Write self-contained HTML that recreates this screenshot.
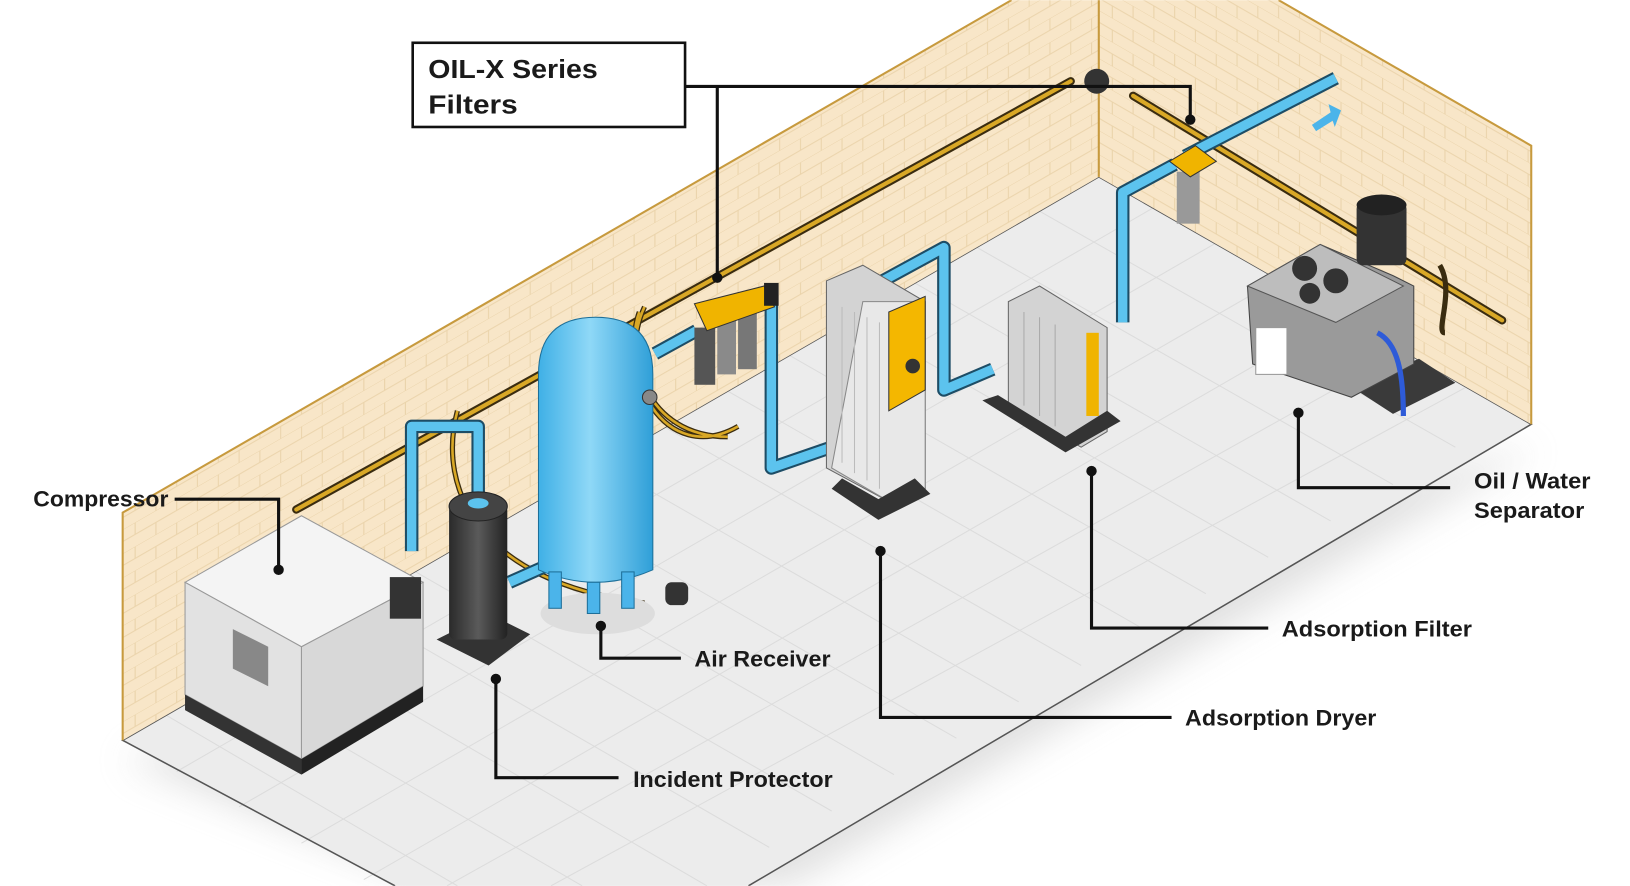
<!DOCTYPE html>
<html><head><meta charset="utf-8"><style>
html,body{margin:0;padding:0;background:#fff;width:1630px;height:886px;overflow:hidden}
svg{display:block;overflow:hidden}
text{font-family:"Liberation Sans Narrow","Liberation Sans",sans-serif;font-weight:bold;fill:#1a1a1a}
</style></head><body>
<svg width="1630" height="886" viewBox="0 0 1568 852" xmlns="http://www.w3.org/2000/svg">
<defs>
<clipPath id="frame"><rect width="1568" height="852"/></clipPath>
<pattern id="brick" width="40" height="23.1" patternUnits="userSpaceOnUse" patternTransform="skewY(-30)">
<rect width="40" height="23.1" fill="#f8e6c8"/>
<path d="M0 0H40M0 11.5H40M10 0V11.5M30 11.5V23.1" stroke="#ead3aa" stroke-width="1"/>
</pattern>
<pattern id="brick2" width="40" height="23.1" patternUnits="userSpaceOnUse" patternTransform="skewY(30)">
<rect width="40" height="23.1" fill="#f8e6c8"/>
<path d="M0 0H40M0 11.5H40M10 0V11.5M30 11.5V23.1" stroke="#ead3aa" stroke-width="1"/>
</pattern>
<linearGradient id="blue" x1="0" x2="1"><stop offset="0" stop-color="#3fb0e6"/><stop offset=".45" stop-color="#8fd8f7"/><stop offset="1" stop-color="#2f9fd8"/></linearGradient>
<linearGradient id="dark" x1="0" x2="1"><stop offset="0" stop-color="#2a2a2a"/><stop offset=".5" stop-color="#5a5a5a"/><stop offset="1" stop-color="#222"/></linearGradient>
<filter id="blur"><feGaussianBlur stdDeviation="18"/></filter>
</defs>
<g clip-path="url(#frame)">
<polygon points="118,730 420,852 760,852 1480,430" fill="#bbb" opacity=".45" filter="url(#blur)"/>
<polygon points="118,712 1057,170 1473,408 720,852 380,852" fill="#ececec"/>
<g stroke="#dcdcdc" stroke-width="1">
<path d="M170,742 L1109,200 M230,776 L1169,234 M290,811 L1229,269 M350,846 L1289,304 M430,852 L1349,338 M530,852 L1409,373"/>
<path d="M1000,203 L1400,430 M940,238 L1340,466 M880,272 L1280,501 M820,307 L1220,536 M760,342 L1160,571 M700,376 L1100,605 M640,411 L1040,640 M580,446 L980,675 M520,480 L920,710 M460,515 L860,745 M400,550 L800,780 M340,584 L740,815 M280,619 L680,852 M220,654 L560,852 M160,688 L440,852"/>
</g>
<polyline points="380,852 118,712 1057,170 1473,408 720,852" fill="none" stroke="#555" stroke-width="1.5"/>
<polygon points="118,493 973,0 1057,0 1057,170 118,712" fill="url(#brick)"/>
<polygon points="1057,0 1230,0 1473,140 1473,408 1057,170" fill="url(#brick2)"/>
<g stroke="#c79a3e" stroke-width="2" fill="none">
<path d="M118,712 V493 L973,0"/>
<path d="M1057,0 V170"/>
<path d="M1230,0 L1473,140 V408"/>
</g>
<g stroke="#3a2c10" stroke-width="8" stroke-linecap="round" fill="none">
<path d="M285,490 L1030,78"/><path d="M1090,92 L1445,308"/>
</g>
<g stroke="#d9a826" stroke-width="4" stroke-linecap="round" fill="none">
<path d="M285,490 L1030,78"/><path d="M1090,92 L1445,308"/>
</g>
<circle cx="1055" cy="78" r="12" fill="#333"/>
<g stroke="#3a2c10" stroke-width="5" fill="none">
<path d="M615,300 C600,340 620,420 700,420 M620,295 C590,360 640,450 710,410 M440,395 C420,470 460,560 620,580"/>
<path d="M1385,255 C1400,280 1380,320 1390,320"/>
</g>
<g stroke="#d9a826" stroke-width="2.5" fill="none">
<path d="M615,300 C600,340 620,420 700,420 M620,295 C590,360 640,450 710,410 M440,395 C420,470 460,560 620,580"/>
</g>
<g stroke="#1d4d66" stroke-width="13" fill="none" stroke-linejoin="round">
<path d="M396,530 V410 H460 V480"/>
<path d="M630,340 L670,318"/>
<path d="M742,280 V450 L800,430"/>
<path d="M840,275 L908,238 V375 L955,355"/>
<path d="M1080,310 V185 L1130,158"/>
<path d="M1140,150 L1285,75"/>
<path d="M490,560 L535,540"/>
</g>
<g stroke="#5cc3ee" stroke-width="9" fill="none" stroke-linejoin="round">
<path d="M396,530 V410 H460 V480"/>
<path d="M630,340 L670,318"/>
<path d="M742,280 V450 L800,430"/>
<path d="M840,275 L908,238 V375 L955,355"/>
<path d="M1080,310 V185 L1130,158"/>
<path d="M1140,150 L1285,75"/>
<path d="M490,560 L535,540"/>
</g>
<path d="M1262,120 l18,-12 -2,-8 12,6 -6,16 -2,-6 -16,10z" fill="#4bb4ea"/>
<polygon points="178,560 290,496 407,560 290,622" fill="#f4f4f4" stroke="#999"/>
<polygon points="178,560 290,622 290,730 178,668" fill="#e2e2e2" stroke="#999"/>
<polygon points="290,622 407,560 407,660 290,730" fill="#d8d8d8" stroke="#999"/>
<polygon points="178,668 290,730 290,745 178,683" fill="#333"/>
<polygon points="290,730 407,660 407,675 290,745" fill="#222"/>
<polygon points="224,605 258,622 258,660 224,643" fill="#888"/>
<rect x="375" y="555" width="30" height="40" fill="#333"/>
<polygon points="420,615 470,640 510,610 470,590" fill="#333"/>
<rect x="432" y="485" width="56" height="130" rx="6" fill="url(#dark)"/>
<ellipse cx="460" cy="487" rx="28" ry="14" fill="#444" stroke="#222"/>
<ellipse cx="460" cy="484" rx="10" ry="5" fill="#5cc3ee"/>
<ellipse cx="575" cy="590" rx="55" ry="20" fill="#ddd"/>
<path d="M518,360 Q518,305 573,305 Q628,305 628,360 V548 Q573,572 518,548Z" fill="url(#blue)" stroke="#1d6f99"/>
<g fill="#4bb4ea" stroke="#1d6f99"><rect x="528" y="550" width="12" height="35"/><rect x="598" y="550" width="12" height="35"/><rect x="565" y="560" width="12" height="30"/></g>
<circle cx="625" cy="382" r="7" fill="#888" stroke="#333"/>
<rect x="640" y="560" width="22" height="22" rx="6" fill="#333"/>
<rect x="668" y="315" width="20" height="55" fill="#555"/>
<rect x="690" y="305" width="18" height="55" fill="#8a8a8a"/>
<rect x="710" y="300" width="18" height="55" fill="#777"/>
<polygon points="668,292 735,275 745,295 680,318" fill="#f0b400" stroke="#333"/>
<rect x="735" y="272" width="14" height="22" fill="#222"/>
<polygon points="795,270 830,255 890,290 890,470 860,485 795,450" fill="#d3d3d3" stroke="#666"/>
<polygon points="830,290 890,290 890,470 860,485 800,450" fill="#e8e8e8" stroke="#888"/>
<g stroke="#bbb"><path d="M810,295V445M822,300V455M834,305V462M846,310V470"/></g>
<polygon points="855,300 890,285 890,375 855,395" fill="#f4b700" stroke="#333"/>
<circle cx="878" cy="352" r="7" fill="#333"/>
<polygon points="800,470 845,500 895,475 880,460 845,480 810,460" fill="#333"/>
<polygon points="970,290 1000,275 1065,315 1065,415 1040,430 970,390" fill="#d3d3d3" stroke="#666"/>
<g stroke="#aaa"><path d="M985,300V390M1000,305V400M1015,312V410"/></g>
<rect x="1045" y="320" width="12" height="80" fill="#f0b400"/>
<polygon points="945,385 1025,435 1078,405 1065,395 1025,420 960,380" fill="#333"/>
<rect x="1132" y="165" width="22" height="50" fill="#999"/>
<polygon points="1125,155 1150,140 1170,155 1145,170" fill="#f0b400" stroke="#333"/>
<polygon points="1300,372 1365,345 1400,368 1340,398" fill="#3a3a3a"/>
<path d="M1200,275 L1270,235 L1340,265 L1360,275 V350 L1300,382 L1205,350Z" fill="#9a9a9a" stroke="#444"/>
<polygon points="1200,275 1270,235 1350,275 1285,310" fill="#bdbdbd" stroke="#555"/>
<rect x="1305" y="195" width="48" height="60" rx="6" fill="#333"/>
<ellipse cx="1329" cy="197" rx="24" ry="10" fill="#222"/>
<circle cx="1255" cy="258" r="12" fill="#333"/><circle cx="1285" cy="270" r="12" fill="#333"/><circle cx="1260" cy="282" r="10" fill="#333"/>
<rect x="1208" y="315" width="30" height="45" fill="#fff" stroke="#999"/>
<path d="M1325,320 C1345,330 1350,360 1350,400" stroke="#2e5bd8" stroke-width="5" fill="none"/>
<rect x="397" y="41" width="262" height="81" fill="#fff" stroke="#111" stroke-width="2.5"/>
<text x="412" y="75" font-size="25" textLength="163" lengthAdjust="spacingAndGlyphs">OIL-X Series</text>
<text x="412" y="109" font-size="25" textLength="86" lengthAdjust="spacingAndGlyphs">Filters</text>
<g stroke="#111" stroke-width="3" fill="none">
<path d="M659,83 H1145 V115"/><path d="M690,83 V267"/>
<path d="M168,480 H268 V548"/>
<path d="M578,602 V633 H655"/>
<path d="M477,653 V748 H595"/>
<path d="M847,530 V690 H1127"/>
<path d="M1050,453 V604 H1220"/>
<path d="M1249,397 V469 H1395"/>
</g>
<g fill="#111">
<circle cx="1145" cy="115" r="5"/><circle cx="690" cy="267" r="5"/><circle cx="268" cy="548" r="5"/>
<circle cx="578" cy="602" r="5"/><circle cx="477" cy="653" r="5"/><circle cx="847" cy="530" r="5"/>
<circle cx="1050" cy="453" r="5"/><circle cx="1249" cy="397" r="5"/>
</g>
<g font-size="21" lengthAdjust="spacingAndGlyphs">
<text x="32" y="487" textLength="130" lengthAdjust="spacingAndGlyphs">Compressor</text>
<text x="668" y="641" textLength="131" lengthAdjust="spacingAndGlyphs">Air Receiver</text>
<text x="609" y="757" textLength="192" lengthAdjust="spacingAndGlyphs">Incident Protector</text>
<text x="1140" y="698" textLength="184" lengthAdjust="spacingAndGlyphs">Adsorption Dryer</text>
<text x="1233" y="612" textLength="183" lengthAdjust="spacingAndGlyphs">Adsorption Filter</text>
<text x="1418" y="470" textLength="112" lengthAdjust="spacingAndGlyphs">Oil / Water</text>
<text x="1418" y="498" textLength="106" lengthAdjust="spacingAndGlyphs">Separator</text>
</g>
</g>
</svg>
</body></html>
